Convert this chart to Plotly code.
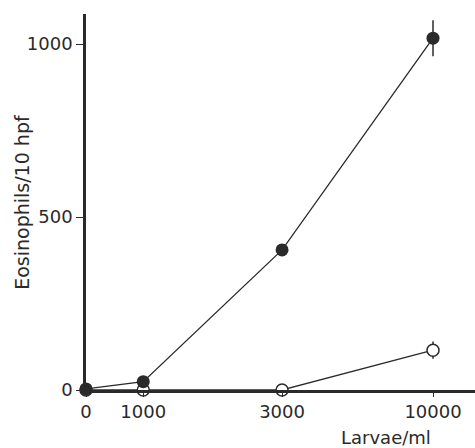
import plotly.graph_objects as go

# Data
larvae_labels = ["0", "1000", "3000", "10000"]
# non-linear position of each dose on the printed x axis (axis scale)
larvae_axis_pos = [0.0, 0.165, 0.565, 1.0]
eos_filled = [3, 24, 405, 1017]
eos_filled_err = [0, 0, 12, 52]
eos_open = [0, 0, 0, 115]
eos_open_err = [0, 0, 0, 25]
y_ticks = [0, 500, 1000]

ink = "#2a2a2a"
font_family = "DejaVu Sans, Liberation Sans, Arial, sans-serif"

fig = go.Figure()
fig.add_trace(go.Scatter(
    x=larvae_axis_pos, y=eos_open,
    error_y=dict(type="data", array=eos_open_err, visible=True, width=0, thickness=1.5, color=ink),
    mode="lines+markers",
    line=dict(color=ink, width=1.3),
    marker=dict(symbol="circle", size=12, color="white", line=dict(color=ink, width=1.5)),
    cliponaxis=False, showlegend=False,
))
fig.add_trace(go.Scatter(
    x=larvae_axis_pos, y=eos_filled,
    error_y=dict(type="data", array=eos_filled_err, visible=True, width=0, thickness=1.5, color=ink),
    mode="lines+markers",
    line=dict(color=ink, width=1.3),
    marker=dict(symbol="circle", size=13, color=ink, line=dict(color=ink, width=0)),
    cliponaxis=False, showlegend=False,
))

fig.update_layout(
    width=475, height=448,
    margin=dict(l=86, r=0, t=14, b=58, autoexpand=False),
    paper_bgcolor="white", plot_bgcolor="white",
    font=dict(family=font_family, size=18, color=ink),
    xaxis=dict(
        range=[0, 1.121], tickvals=larvae_axis_pos, ticktext=larvae_labels,
        showline=True, linewidth=2.5, linecolor=ink, showgrid=False, zeroline=False,
        ticks="outside", ticklen=4, tickwidth=1.3, tickcolor=ink,
        tickfont=dict(size=18, color=ink), automargin=False,
    ),
    yaxis=dict(
        range=[0, 1087], tickvals=y_ticks,
        showline=True, linewidth=2.5, linecolor=ink, showgrid=False, zeroline=False,
        ticks="outside", ticklen=7, tickwidth=1.3, tickcolor=ink,
        tickfont=dict(size=18, color=ink), automargin=False,
    ),
    annotations=[
        dict(
            text="Larvae/ml", xref="paper", yref="paper", x=0.772, y=-0.093,
            xanchor="center", yanchor="top", showarrow=False,
            font=dict(size=18, color=ink),
        ),
        dict(
            text="Eosinophils/10 hpf", xref="paper", yref="paper", x=-0.165, y=0.50,
            xanchor="center", yanchor="middle", textangle=-90, showarrow=False,
            font=dict(size=19, color=ink),
        ),
    ],
)

fig.write_html("out.html", config={"displayModeBar": False})
with open("out.html", encoding="utf-8") as f:
    html = f.read()
html = html.replace("<head>", "<head><style>html,body{margin:0;padding:0;}</style>", 1)
with open("out.html", "w", encoding="utf-8") as f:
    f.write(html)
